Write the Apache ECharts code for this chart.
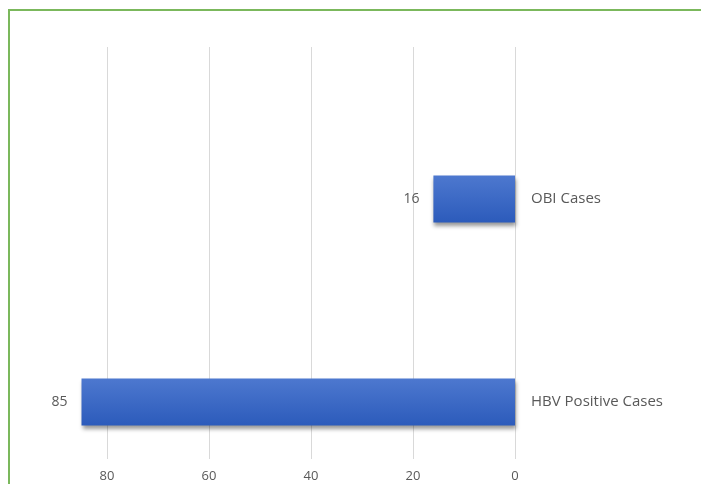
<!DOCTYPE html>
<html><head><meta charset="utf-8">
<script src="https://cdn.jsdelivr.net/npm/echarts@6/dist/echarts.min.js"></script>
<style>html,body{margin:0;padding:0;background:#fff}#c{width:701px;height:484px}</style>
</head><body><div id="c"></div>
<script>
const categories = ['HBV Positive Cases', 'OBI Cases'];
const values = [85, 16];
const tickValues = [0, 20, 40, 60, 80];

const chart = echarts.init(document.getElementById('c'), null, {renderer: 'canvas'});
const txt = '#595959';
chart.setOption({
  animation: false,
  backgroundColor: '#fff',
  graphic: [{
    type: 'rect', z: 100, silent: true,
    shape: {x: 9, y: 10, width: 900, height: 700},
    style: {fill: 'none', stroke: '#7bb85c', lineWidth: 2}
  }],
  grid: [
    {left: 56, right: 186, top: 199, height: 203, containLabel: false},
    {left: 107, right: 186, top: 47, bottom: 25, containLabel: false}
  ],
  xAxis: [
    {gridIndex: 0, type: 'value', inverse: true, min: 0, max: 90, show: false, splitLine: {show: false}},
    {gridIndex: 1, type: 'value', inverse: true, min: 0, max: 80, interval: 20,
     axisLine: {show: false}, axisTick: {show: false},
     axisLabel: {color: txt, fontSize: 13, fontFamily: 'Open Sans', margin: 11,
       formatter: v => tickValues.includes(v) ? String(v) : ''},
     splitLine: {show: true, lineStyle: {color: '#d9d9d9', width: 1}}}
  ],
  yAxis: [
    {gridIndex: 0, type: 'category', data: categories, position: 'right', boundaryGap: false,
     axisLine: {show: false}, axisTick: {show: false}, splitLine: {show: false},
     axisLabel: {color: txt, fontSize: 15, fontFamily: 'Open Sans', margin: 16, align: 'left'}},
    {gridIndex: 1, type: 'category', data: [''], show: false}
  ],
  series: [{
    type: 'bar', xAxisIndex: 0, yAxisIndex: 0, clip: false,
    data: values, barWidth: 47,
    itemStyle: {
      color: new echarts.graphic.LinearGradient(0, 0, 0, 1, [
        {offset: 0, color: '#4d78cf'}, {offset: 1, color: '#2c5bbb'}
      ]),
      shadowColor: 'rgba(0,0,0,0.4)', shadowBlur: 4, shadowOffsetY: 3, shadowOffsetX: 1
    },
    label: {show: true, position: 'left', distance: 14, color: txt, fontSize: 14, fontFamily: 'Open Sans'}
  }]
});
</script></body></html>
